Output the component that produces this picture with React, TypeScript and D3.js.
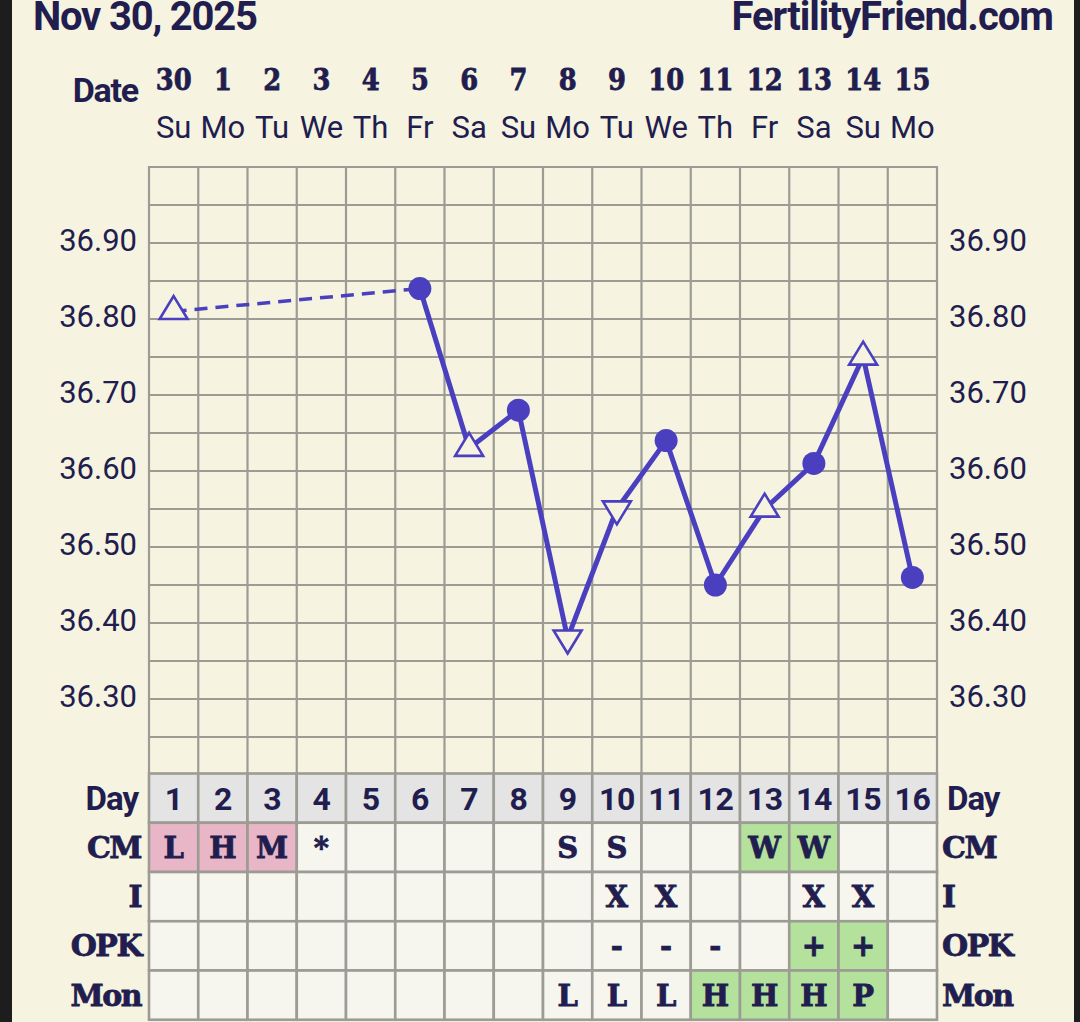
import React from "react";
import * as d3 from "d3";

const titleDate = "Nov 30, 2025";
const siteName = "FertilityFriend.com";
const dates = ["30", "1", "2", "3", "4", "5", "6", "7", "8", "9", "10", "11", "12", "13", "14", "15"];
const weekdays = ["Su", "Mo", "Tu", "We", "Th", "Fr", "Sa", "Su", "Mo", "Tu", "We", "Th", "Fr", "Sa", "Su", "Mo"];
const cycleDays = [1, 2, 3, 4, 5, 6, 7, 8, 9, 10, 11, 12, 13, 14, 15, 16];
const temps: (number | null)[] = [36.81, null, null, null, null, 36.84, 36.63, 36.68, 36.38, 36.55, 36.64, 36.45, 36.55, 36.61, 36.75, 36.46];
const markers = ["up", "", "", "", "", "dot", "up", "dot", "down", "down", "dot", "dot", "up", "dot", "up", "dot"];
const tempTicks = [36.3, 36.4, 36.5, 36.6, 36.7, 36.8, 36.9];
const cmValues = ["L", "H", "M", "*", "", "", "", "", "S", "S", "", "", "W", "W", "", ""];
const cmFills = ["pink", "pink", "pink", "", "", "", "", "", "", "", "", "", "green", "green", "", ""];
const intercourse = ["", "", "", "", "", "", "", "", "", "X", "X", "", "", "X", "X", ""];
const opkValues = ["", "", "", "", "", "", "", "", "", "-", "-", "-", "", "+", "+", ""];
const opkFills = ["", "", "", "", "", "", "", "", "", "", "", "", "", "green", "green", ""];
const monValues = ["", "", "", "", "", "", "", "", "L", "L", "L", "H", "H", "H", "P", ""];
const monFills = ["", "", "", "", "", "", "", "", "", "", "", "green", "green", "green", "green", ""];
const rowLabels = ["CM", "I", "OPK", "Mon"];

const BG = "#f6f3e1";
const NAVY = "#211d4e";
const GRID = "#9c9c94";
const LINE = "#4a3fbf";
const CELL = "#f6f6ef";
const DAYCELL = "#e4e4e4";
const FILLS: Record<string, string> = { pink: "#e8b6c6", green: "#b4e29c", "": CELL };

const SANS = "Roboto, 'Noto Sans', sans-serif";
const SLAB = "'DejaVu Serif', serif";

export default function App() {
  const W = 1080;
  const H = 1022;
  const x = d3.scaleBand<number>().domain(cycleDays).range([149, 937]).padding(0);
  const bw = x.bandwidth();
  const y = d3.scaleLinear().domain([36.2, 37.0]).range([775, 167]);
  const gridTemps = y.ticks(16);
  const tableTop = 773.5;
  const rowH = bw;

  const pts = temps
    .map((t, i) => (t == null ? null : { i, t, cx: (x(cycleDays[i]) as number) + bw / 2, cy: y(t), m: markers[i] }))
    .filter((p) => p != null) as { i: number; t: number; cx: number; cy: number; m: string }[];
  const segs = pts.slice(1).map((p, k) => ({ a: pts[k], b: p, dashed: p.i - pts[k].i > 1 }));
  const lineGen = d3.line<{ cx: number; cy: number }>().x((d) => d.cx).y((d) => d.cy);

  const rows = [
    { vals: cmValues, fills: cmFills },
    { vals: intercourse, fills: intercourse.map(() => "") },
    { vals: opkValues, fills: opkFills },
    { vals: monValues, fills: monFills },
  ];

  const triW = 28;
  const triH = 23;
  const slabStroke = { stroke: NAVY, strokeWidth: 0.8 };

  return (
    <svg width={W} height={H} style={{ position: "absolute", left: 0, top: 0, display: "block" }}>
      <rect x={0} y={0} width={W} height={H} fill={BG} />
      <rect x={0} y={0} width={12} height={H} fill="#1d1d1d" />
      <rect x={1074} y={0} width={6} height={H} fill="#1d1d1d" />

      <text x={33} y={30} fontFamily={SANS} fontWeight={700} fontSize={40} letterSpacing={-1.2} fill={NAVY}>
        {titleDate}
      </text>
      <text x={1053} y={30} textAnchor="end" fontFamily={SANS} fontWeight={700} fontSize={40} letterSpacing={-1} fill={NAVY}>
        {siteName}
      </text>

      <text x={138} y={102} textAnchor="end" fontFamily={SANS} fontWeight={700} fontSize={34} letterSpacing={-1.2} fill={NAVY}>
        Date
      </text>
      {dates.map((d, i) => {
        const cx = (x(cycleDays[i]) as number) + bw / 2;
        return (
          <g key={"d" + i}>
            <text
              transform={`translate(${cx},90) scale(0.86,1)`}
              textAnchor="middle"
              fontFamily={SLAB}
              fontWeight={700}
              fontSize={30}
              fill={NAVY}
              {...slabStroke}
            >
              {d}
            </text>
            <text x={cx} y={138} textAnchor="middle" fontFamily={SANS} fontSize={31} fill={NAVY}>
              {weekdays[i]}
            </text>
          </g>
        );
      })}

      {/* temperature grid */}
      {gridTemps.map((t) => (
        <line key={"h" + t} x1={149} x2={937} y1={y(t)} y2={y(t)} stroke={GRID} strokeWidth={2.2} />
      ))}
      {cycleDays.concat([17]).map((d, i) => {
        const xx = i < 16 ? (x(d) as number) : 937;
        return <line key={"v" + i} x1={xx} x2={xx} y1={166} y2={tableTop} stroke={GRID} strokeWidth={2.2} />;
      })}

      {tempTicks.map((t) => (
        <g key={"t" + t}>
          <text x={137} y={y(t) + 8} textAnchor="end" fontFamily={SANS} fontSize={31} fill={NAVY}>
            {t.toFixed(2)}
          </text>
          <text x={949} y={y(t) + 8} textAnchor="start" fontFamily={SANS} fontSize={31} fill={NAVY}>
            {t.toFixed(2)}
          </text>
        </g>
      ))}

      {/* lines */}
      {segs.map((s, k) => (
        <path
          key={"s" + k}
          d={lineGen([s.a, s.b]) as string}
          fill="none"
          stroke={LINE}
          strokeWidth={s.dashed ? 3.5 : 5}
          strokeDasharray={s.dashed ? "13 8" : undefined}
          strokeLinecap="butt"
        />
      ))}
      {pts.map((p) => {
        if (p.m === "dot") return <circle key={"p" + p.i} cx={p.cx} cy={p.cy} r={11.5} fill={LINE} />;
        const up = p.m === "up";
        const apex = up ? p.cy - (triH * 2) / 3 : p.cy + (triH * 2) / 3;
        const base = up ? p.cy + triH / 3 : p.cy - triH / 3;
        const d = `M${p.cx},${apex} L${p.cx + triW / 2},${base} L${p.cx - triW / 2},${base} Z`;
        return <path key={"p" + p.i} d={d} fill={BG} stroke={LINE} strokeWidth={2.6} strokeLinejoin="miter" />;
      })}

      {/* table */}
      {cycleDays.map((d) => (
        <g key={"day" + d}>
          <rect x={x(d)} y={tableTop} width={bw} height={rowH} fill={DAYCELL} stroke={GRID} strokeWidth={2.6} />
          <text
            x={(x(d) as number) + bw / 2}
            y={tableTop + 36}
            textAnchor="middle"
            fontFamily={SANS}
            fontWeight={700}
            fontSize={32}
            letterSpacing={-0.5}
            fill={NAVY}
          >
            {d}
          </text>
        </g>
      ))}
      {rows.map((r, ri) => {
        const top = tableTop + rowH * (ri + 1);
        return (
          <g key={"row" + ri}>
            {cycleDays.map((d, i) => (
              <g key={"c" + ri + "-" + i}>
                <rect x={x(d)} y={top} width={bw} height={rowH} fill={FILLS[r.fills[i]]} stroke={GRID} strokeWidth={2.6} />
                {r.vals[i] && (
                  <text
                    x={(x(d) as number) + bw / 2}
                    y={top + 35}
                    textAnchor="middle"
                    fontFamily={SLAB}
                    fontWeight={700}
                    fontSize={29}
                    fill={NAVY}
                    {...slabStroke}
                  >
                    {r.vals[i]}
                  </text>
                )}
              </g>
            ))}
            <text x={141} y={top + 35} textAnchor="end" fontFamily={SLAB} fontWeight={700} fontSize={30} letterSpacing={-1.5} fill={NAVY} {...slabStroke}>
              {rowLabels[ri]}
            </text>
            <text x={942} y={top + 35} textAnchor="start" fontFamily={SLAB} fontWeight={700} fontSize={30} letterSpacing={-1.5} fill={NAVY} {...slabStroke}>
              {rowLabels[ri]}
            </text>
          </g>
        );
      })}
      <text x={138} y={tableTop + 36} textAnchor="end" fontFamily={SANS} fontWeight={700} fontSize={33} letterSpacing={-1} fill={NAVY}>
        Day
      </text>
      <text x={947} y={tableTop + 36} textAnchor="start" fontFamily={SANS} fontWeight={700} fontSize={33} letterSpacing={-1} fill={NAVY}>
        Day
      </text>
    </svg>
  );
}
